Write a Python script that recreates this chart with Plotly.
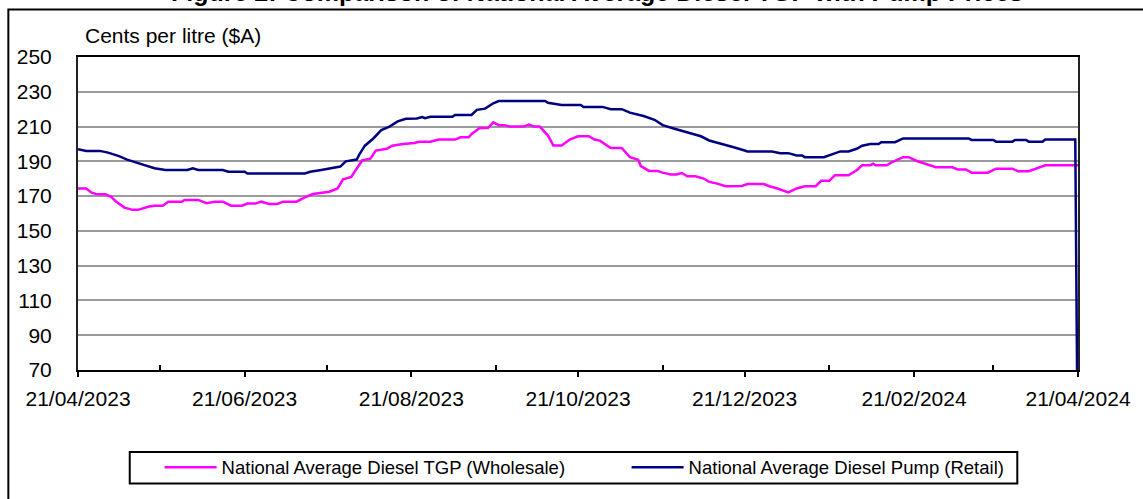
import plotly.graph_objects as go

# ---- data ----
tgp_dates = [
    "2023-04-21", "2023-04-24", "2023-04-26", "2023-04-28", "2023-05-01", "2023-05-03", "2023-05-05",
    "2023-05-08", "2023-05-11", "2023-05-13", "2023-05-17", "2023-05-19", "2023-05-22", "2023-05-24",
    "2023-05-29", "2023-05-30", "2023-06-04", "2023-06-06", "2023-06-07", "2023-06-10", "2023-06-13",
    "2023-06-16", "2023-06-20", "2023-06-22", "2023-06-25", "2023-06-27", "2023-06-30", "2023-07-03",
    "2023-07-05", "2023-07-10", "2023-07-13", "2023-07-16", "2023-07-22", "2023-07-25", "2023-07-27",
    "2023-07-30", "2023-08-01", "2023-08-03", "2023-08-06", "2023-08-08", "2023-08-12", "2023-08-14",
    "2023-08-18", "2023-08-22", "2023-08-24", "2023-08-28", "2023-08-31", "2023-09-06", "2023-09-08",
    "2023-09-11", "2023-09-12", "2023-09-15", "2023-09-18", "2023-09-20", "2023-09-22", "2023-09-24",
    "2023-09-26", "2023-10-01", "2023-10-03", "2023-10-05", "2023-10-07", "2023-10-10", "2023-10-12",
    "2023-10-15", "2023-10-18", "2023-10-21", "2023-10-25", "2023-10-27", "2023-10-29", "2023-11-02",
    "2023-11-06", "2023-11-09", "2023-11-12", "2023-11-13", "2023-11-16", "2023-11-19", "2023-11-21",
    "2023-11-24", "2023-11-26", "2023-11-28", "2023-11-30", "2023-12-03", "2023-12-06", "2023-12-08",
    "2023-12-11", "2023-12-14", "2023-12-20", "2023-12-22", "2023-12-28", "2023-12-30", "2024-01-02",
    "2024-01-06", "2024-01-09", "2024-01-12", "2024-01-16", "2024-01-18", "2024-01-21", "2024-01-23",
    "2024-01-28", "2024-01-31", "2024-02-02", "2024-02-05", "2024-02-06", "2024-02-07", "2024-02-11",
    "2024-02-13", "2024-02-17", "2024-02-19", "2024-02-22", "2024-02-25", "2024-02-29", "2024-03-06",
    "2024-03-08", "2024-03-11", "2024-03-13", "2024-03-19", "2024-03-22", "2024-03-28", "2024-03-30",
    "2024-04-03", "2024-04-06", "2024-04-09", "2024-04-21",
]
tgp_values = [
    174.4, 174.4, 172.0, 171.0, 171.0, 169.7, 166.8,
    163.4, 162.1, 162.1, 164.0, 164.5, 164.5, 166.8,
    166.8, 167.8, 167.8, 166.8, 165.9, 166.8, 166.8,
    164.5, 164.5, 165.7, 165.7, 166.8, 165.5, 165.5,
    166.8, 166.8, 169.3, 171.2, 172.5, 174.4, 179.7,
    181.0, 185.8, 190.5, 191.5, 196.2, 197.2, 199.0,
    200.0, 200.5, 201.3, 201.3, 202.5, 202.5, 203.8,
    203.8, 205.6, 209.1, 209.1, 212.4, 210.8, 210.8,
    210.0, 210.0, 211.2, 210.0, 210.0, 204.8, 199.1,
    199.1, 202.5, 204.4, 204.4, 202.5, 201.9, 197.7,
    197.7, 192.4, 190.9, 187.3, 184.5, 184.5, 183.5,
    182.4, 182.4, 183.3, 181.4, 181.4, 180.1, 178.2,
    177.2, 175.7, 175.8, 176.9, 176.9, 175.7, 174.4,
    172.1, 174.4, 175.7, 175.7, 178.8, 178.8, 182.0,
    182.0, 184.9, 187.7, 187.7, 188.6, 187.7, 187.7,
    189.6, 192.4, 192.4, 190.2, 188.6, 186.6, 186.6,
    185.3, 185.3, 183.5, 183.5, 185.8, 185.8, 184.3,
    184.3, 185.8, 187.7, 187.7,
]

pump_dates = [
    "2023-04-21", "2023-04-24", "2023-04-29", "2023-05-02", "2023-05-06", "2023-05-09", "2023-05-13",
    "2023-05-19", "2023-05-23", "2023-05-31", "2023-06-02", "2023-06-04", "2023-06-13", "2023-06-15",
    "2023-06-21", "2023-06-22", "2023-07-13", "2023-07-15", "2023-07-19", "2023-07-22", "2023-07-26",
    "2023-07-28", "2023-08-01", "2023-08-02", "2023-08-04", "2023-08-07", "2023-08-10", "2023-08-13",
    "2023-08-16", "2023-08-19", "2023-08-23", "2023-08-25", "2023-08-26", "2023-08-28", "2023-09-05",
    "2023-09-06", "2023-09-12", "2023-09-14", "2023-09-17", "2023-09-20", "2023-09-22", "2023-10-09",
    "2023-10-10", "2023-10-15", "2023-10-22", "2023-10-23", "2023-10-30", "2023-11-02", "2023-11-06",
    "2023-11-09", "2023-11-14", "2023-11-18", "2023-11-21", "2023-11-25", "2023-11-30", "2023-12-05",
    "2023-12-08", "2023-12-13", "2023-12-17", "2023-12-21", "2023-12-22", "2023-12-31", "2024-01-03",
    "2024-01-06", "2024-01-09", "2024-01-11", "2024-01-12", "2024-01-19", "2024-01-21", "2024-01-25",
    "2024-01-28", "2024-01-31", "2024-02-02", "2024-02-05", "2024-02-08", "2024-02-09", "2024-02-14",
    "2024-02-17", "2024-03-12", "2024-03-13", "2024-03-21", "2024-03-22", "2024-03-28", "2024-03-29",
    "2024-04-02", "2024-04-03", "2024-04-08", "2024-04-09", "2024-04-20", "2024-04-21",
]
pump_values = [
    197.0, 196.0, 196.0, 195.0, 193.0, 191.0, 189.0,
    186.0, 185.0, 185.0, 186.0, 185.0, 185.0, 184.0,
    184.0, 183.0, 183.0, 184.0, 185.0, 186.0, 187.0,
    190.0, 191.0, 194.0, 199.0, 203.0, 208.0, 210.0,
    213.0, 214.5, 214.6, 215.5, 214.8, 215.6, 215.6,
    216.7, 216.7, 219.6, 220.3, 223.4, 224.7, 224.7,
    223.7, 222.4, 222.4, 221.3, 221.3, 220.0, 220.0,
    218.0, 216.1, 213.9, 210.8, 208.9, 206.7, 204.4,
    202.0, 200.0, 198.1, 196.2, 195.7, 195.7, 194.7,
    194.7, 193.4, 193.4, 192.4, 192.4, 193.4, 195.7,
    195.7, 197.2, 199.0, 200.0, 200.0, 201.0, 201.0,
    203.2, 203.2, 202.3, 202.3, 201.3, 201.3, 202.3,
    202.3, 201.3, 201.3, 202.5, 202.5, 0.0,
]

series_names = ["National Average Diesel TGP (Wholesale)", "National Average Diesel Pump (Retail)"]
series_colors = ["#FF00FF", "#000080"]
y_ticks = [70, 90, 110, 130, 150, 170, 190, 210, 230, 250]
y_title = "Cents per litre ($A)"
chart_title = "Figure 2: Comparison of National Average Diesel TGP with Pump Prices"

FONT = "Liberation Sans, Arial, sans-serif"

fig = go.Figure()
fig.add_trace(go.Scatter(x=tgp_dates, y=tgp_values, mode="lines", name=series_names[0],
                         line=dict(color=series_colors[0], width=2.5)))
fig.add_trace(go.Scatter(x=pump_dates, y=pump_values, mode="lines", name=series_names[1],
                         line=dict(color=series_colors[1], width=2.5)))

W, H = 1143, 499
L, R, T, B = 78, 60, 57, 125
pw, ph = W - L - R, H - T - B


def px_x(x):
    return (x - L) / pw


def px_y(y):
    return (H - B - y) / ph


fig.update_layout(
    width=W, height=H,
    margin=dict(l=L, r=R, t=T, b=B),
    paper_bgcolor="white", plot_bgcolor="white",
    font=dict(family=FONT, color="black", size=21),
    showlegend=True,
    legend=dict(orientation="h", x=px_x(160), y=px_y(473), xanchor="left", yanchor="middle",
                font=dict(size=18.5, family=FONT), bgcolor="rgba(0,0,0,0)",
                entrywidth=400, entrywidthmode="pixels", itemwidth=52,
                traceorder="normal"),
)

fig.update_xaxes(
    type="date",
    range=["2023-04-21", "2024-04-21"],
    tick0="2023-04-21", dtick="M2", tickformat="%d/%m/%Y",
    ticks="outside", ticklen=5, tickwidth=2, tickcolor="black",
    minor=dict(tick0="2023-05-21", dtick="M2", ticks="inside", ticklen=5, tickwidth=2, tickcolor="black", showgrid=False),
    showgrid=False, showline=True, linecolor="black", linewidth=2, mirror=True,
    tickfont=dict(size=21, family=FONT), ticklabelstandoff=4,
    zeroline=False,
)
fig.update_yaxes(
    range=[70, 250], tickvals=y_ticks, ticks="", showgrid=True,
    gridcolor="#9a9a9a", gridwidth=2,
    showline=True, linecolor="#222222", linewidth=2, mirror=True,
    tickfont=dict(size=21, family=FONT), ticklabelstandoff=20,
    zeroline=False,
)

# outer chart-area border
fig.add_shape(type="rect", xref="paper", yref="paper",
              x0=px_x(8), x1=px_x(1300), y0=px_y(9), y1=px_y(700),
              line=dict(color="black", width=2), fillcolor="rgba(0,0,0,0)", layer="below")
# legend box
fig.add_shape(type="rect", xref="paper", yref="paper",
              x0=px_x(130), x1=px_x(1022), y0=px_y(457), y1=px_y(489),
              line=dict(color="black", width=2), fillcolor="rgba(0,0,0,0)")

fig.add_annotation(text=y_title, xref="paper", yref="paper", x=px_x(83), y=px_y(35),
                   xanchor="left", yanchor="middle", showarrow=False,
                   font=dict(size=21, family=FONT))
fig.add_annotation(text="<b>" + chart_title + "</b>", xref="paper", yref="paper",
                   x=px_x(600), y=px_y(4), xanchor="center", yanchor="bottom", yshift=-3,
                   showarrow=False, font=dict(size=25, family=FONT))

fig.write_html("out.html", config={"displayModeBar": False},
               post_script="document.body.style.margin='0';")
